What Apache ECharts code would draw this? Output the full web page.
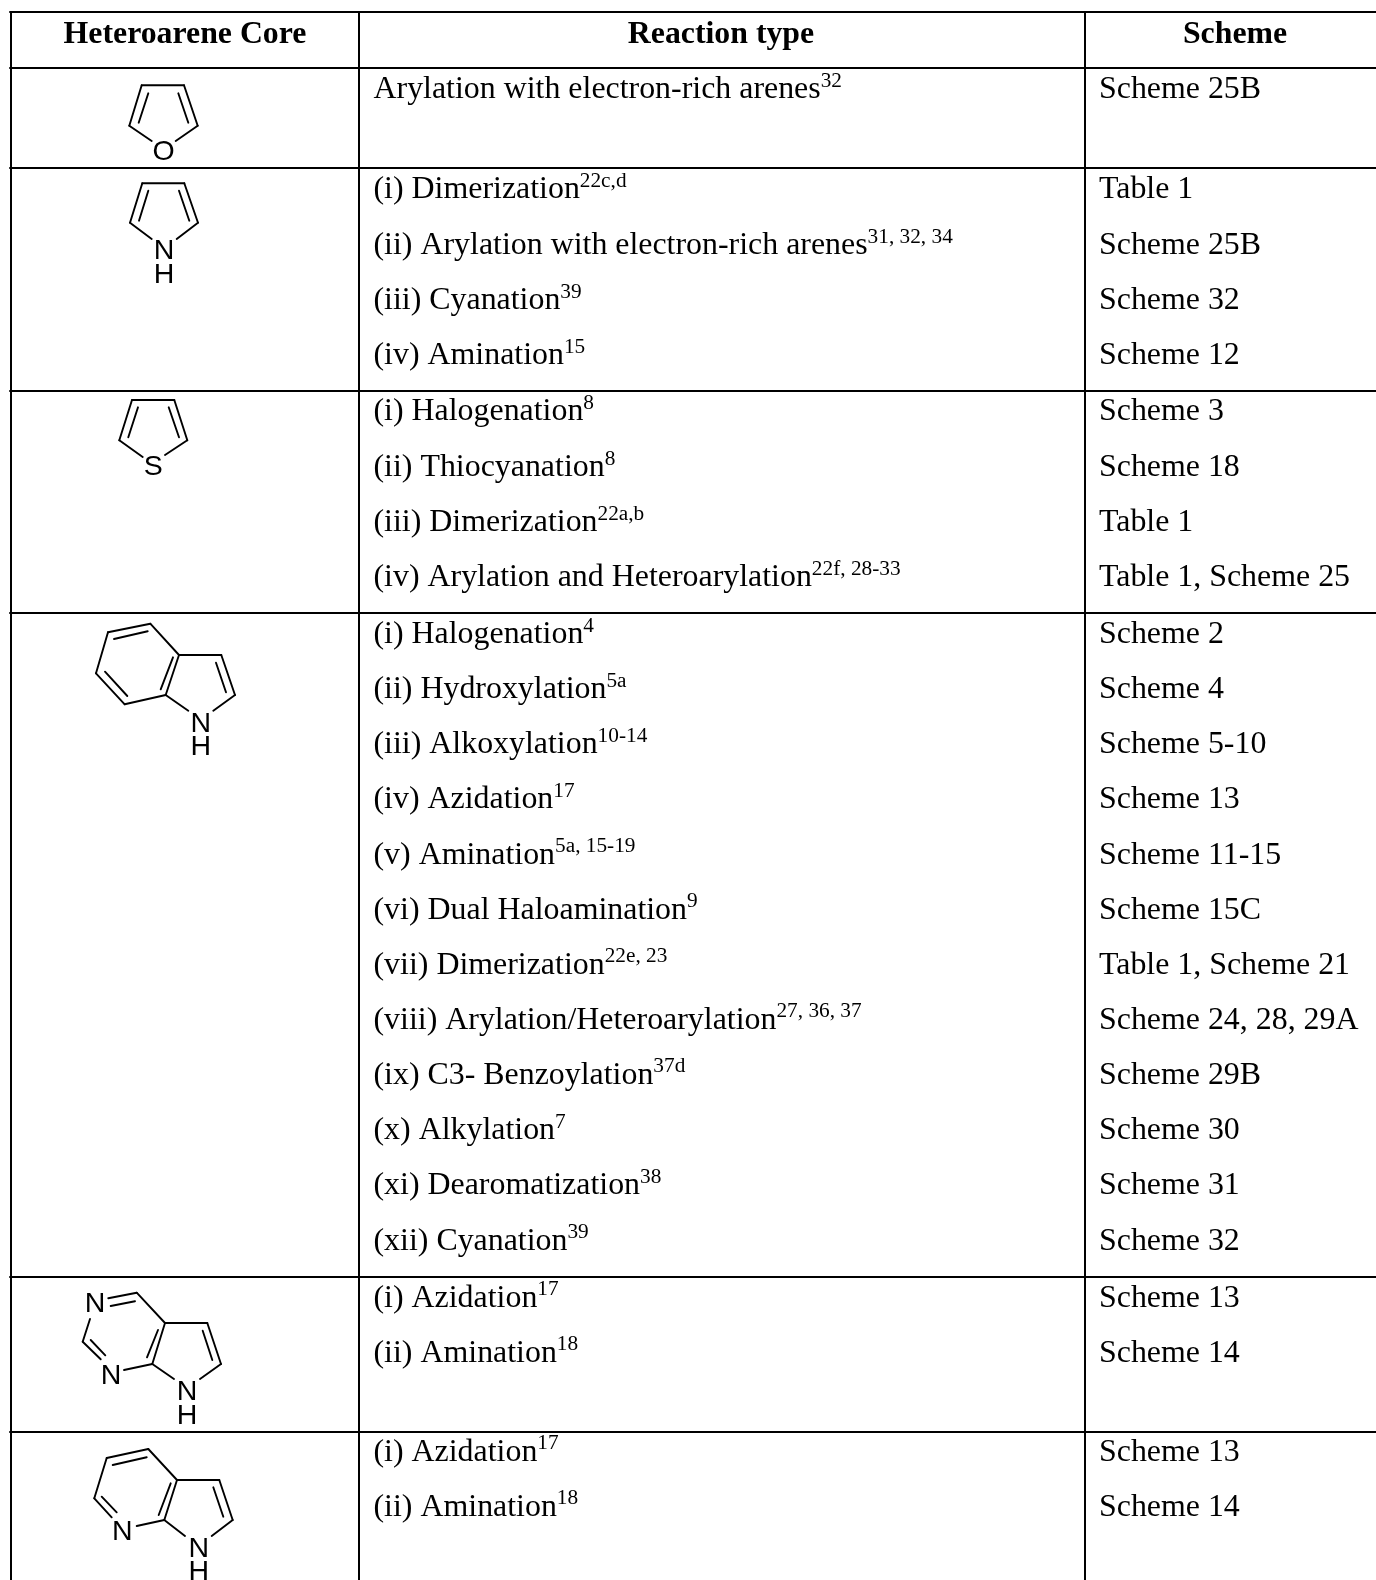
<!DOCTYPE html>
<html>
<head>
<meta charset="utf-8">
<title>Heteroarene cores</title>
<style>html,body{margin:0;padding:0;background:#fff}#c{width:1376px;height:1580px}</style>
<script src="https://cdn.jsdelivr.net/npm/echarts@6/dist/echarts.min.js"></script>
</head>
<body>
<div id="c"></div>
<script>
// --- Table rules (page pixel scale of the hidden axes)
const ruleRows = [12, 68, 168, 391, 613, 1277, 1432];
const ruleCols = [11, 359, 1085];

// --- Header
const headerLabels = ['Heteroarene Core', 'Reaction type', 'Scheme'];
const headerCenters = [185, 721, 1235];
const headerBaseline = 45.5;

// --- Body text: reaction, superscript, scheme, baseline
const reactionTexts = [
  'Arylation with electron-rich arenes',
  '(i) Dimerization', '(ii) Arylation with electron-rich arenes', '(iii) Cyanation', '(iv) Amination',
  '(i) Halogenation', '(ii) Thiocyanation', '(iii) Dimerization', '(iv) Arylation and Heteroarylation',
  '(i) Halogenation', '(ii) Hydroxylation', '(iii) Alkoxylation', '(iv) Azidation', '(v) Amination',
  '(vi) Dual Haloamination', '(vii) Dimerization', '(viii) Arylation/Heteroarylation', '(ix) C3- Benzoylation',
  '(x) Alkylation', '(xi) Dearomatization', '(xii) Cyanation',
  '(i) Azidation', '(ii) Amination',
  '(i) Azidation', '(ii) Amination'
];
const reactionRefs = [
  '32',
  '22c,d', '31, 32, 34', '39', '15',
  '8', '8', '22a,b', '22f, 28-33',
  '4', '5a', '10-14', '17', '5a, 15-19',
  '9', '22e, 23', '27, 36, 37', '37d',
  '7', '38', '39',
  '17', '18',
  '17', '18'
];
const schemeTexts = [
  'Scheme 25B',
  'Table 1', 'Scheme 25B', 'Scheme 32', 'Scheme 12',
  'Scheme 3', 'Scheme 18', 'Table 1', 'Table 1, Scheme 25',
  'Scheme 2', 'Scheme 4', 'Scheme 5-10', 'Scheme 13', 'Scheme 11-15',
  'Scheme 15C', 'Table 1, Scheme 21', 'Scheme 24, 28, 29A', 'Scheme 29B',
  'Scheme 30', 'Scheme 31', 'Scheme 32',
  'Scheme 13', 'Scheme 14',
  'Scheme 13', 'Scheme 14'
];
const textBaselines = [
  100.5,
  200.5, 256.5, 311.5, 366.5,
  422.5, 478.5, 533.5, 588.5,
  645.5, 700.5, 755.5, 810.5, 866, 921, 976, 1031, 1086, 1141.5, 1196.5, 1252,
  1309, 1364,
  1463, 1518
];
const reactionX = 373.5;
const schemeX = 1099;

// --- Structures: bonds as [x1, y1, x2, y2]
const furanBonds = [
  [141.7,85.3,184,85.3],[141.7,85.3,129.3,125.7],[184,85.3,197.7,125.7],
  [129.3,125.7,151.7,141],[197.7,125.7,175.7,141],
  [148.3,93.3,138.7,122.7],[178.3,93.3,188.3,122.7]
];
const pyrroleBonds = [
  [142.3,183.3,184.3,183.3],[142.3,183.3,130,222.7],[184.3,183.3,198,222.7],
  [130,222.7,151.7,239],[198,222.7,176.7,239],
  [148.3,190.7,139,220.7],[179,190.7,189.3,220.7]
];
const thiopheneBonds = [
  [132,400,174.3,400],[132,400,119.3,440.3],[174.3,400,187.3,440.3],
  [119.3,440.3,142.7,457],[187.3,440.3,165,455],
  [138,407.3,128.3,437.3],[168.7,407.3,179,437.3]
];
const indoleBonds = [
  [108,632.3,150.3,623.7],[150.3,623.7,179,655],[179,655,221.3,655],[221.3,655,235,695],
  [179,655,165.7,695],[165.7,695,124.7,704.3],[124.7,704.3,96,673.3],[96,673.3,108,632.3],
  [165.7,695,188.3,710.7],[235,695,213.3,710.7],
  [114,639,147.7,631.3],[173,657.3,160.7,689.3],[216,662.7,226,692.3],[105,671.7,127.3,696]
];
const pyrrolopyrimidineBonds = [
  [108.3,1298.3,136.7,1292.7],[110.7,1306,135,1301.3],[136.7,1292.7,165,1323],
  [165,1323,207.3,1323],[207.3,1323,221,1364],[202.7,1330.7,212.3,1360],
  [165,1323,152.3,1364],[158,1330,147,1357.3],[152.3,1364,124,1370],
  [82.7,1341.7,90,1319],[82.7,1341.7,100.7,1359.3],[90.7,1340,105.3,1355.3],
  [152.3,1364,174,1379],[221,1364,200,1379]
];
const azaindoleBonds = [
  [106.7,1458,148.3,1449],[112.7,1465,146.7,1457.3],[148.3,1449,177,1480],
  [177,1480,219.3,1480],[219.3,1480,232.7,1520],[213.3,1487.3,223.3,1516.7],
  [177,1480,164.3,1520],[170.7,1483.3,158.7,1515],[164.3,1520,136.7,1526],
  [94.3,1498.3,111.7,1517.3],[101.7,1496.7,116.7,1512.3],[94.3,1498.3,106.7,1458],
  [164.3,1520,185,1536],[232.7,1520,211.7,1536]
];
// Atom labels: [x, y, symbol]
const atomLabels = [
  [163.5,152.5,'O'],
  [164,251,'N'],[164,275.5,'H'],
  [153.3,467.5,'S'],
  [200.8,724.5,'N'],[200.8,747.5,'H'],
  [95,1304,'N'],[111,1376,'N'],[187,1392.5,'N'],[187,1416.5,'H'],
  [122.3,1532,'N'],[198.8,1549,'N'],[198.8,1572,'H']
];

const SERIF = '"Liberation Serif","Times New Roman",serif';
const SANS = '"Liberation Sans",Arial,sans-serif';
const BODY = 31.9, SUP = 21.3, HEAD = 31.8, ATOM = 28.5;
const MID = 0.3375;           // em-middle above the baseline for the serif face
const SUP_RISE = 12;

const measure = document.createElement('canvas').getContext('2d');
function textWidth(s, size) { measure.font = size + 'px ' + SERIF; return measure.measureText(s).width; }

// Flatten into segments and text items
const ruleSegs = [
  ...ruleRows.map(y => [ruleCols[0] - 1, y, 1376, y]),
  ...ruleCols.map(x => [x, ruleRows[0], x, 1580])
];
const bondSegs = [...furanBonds, ...pyrroleBonds, ...thiopheneBonds, ...indoleBonds,
                  ...pyrrolopyrimidineBonds, ...azaindoleBonds];

const textItems = [];
headerLabels.forEach((t, i) => textItems.push({x: headerCenters[i], y: headerBaseline - MID * HEAD, t, size: HEAD, bold: true, align: 'center', font: SERIF}));
reactionTexts.forEach((t, i) => {
  const b = textBaselines[i];
  textItems.push({x: reactionX, y: b - MID * BODY, t, size: BODY, align: 'left', font: SERIF});
  textItems.push({x: reactionX + textWidth(t, BODY), y: b - SUP_RISE - MID * SUP, t: reactionRefs[i], size: SUP, align: 'left', font: SERIF});
  textItems.push({x: schemeX, y: b - MID * BODY, t: schemeTexts[i], size: BODY, align: 'left', font: SERIF});
});
atomLabels.forEach(a => textItems.push({x: a[0], y: a[1], t: a[2], size: ATOM, align: 'center', font: SANS}));

function segRenderer(width, color) {
  return function (params, api) {
    const p = api.coord([api.value(0), api.value(1)]);
    const q = api.coord([api.value(2), api.value(3)]);
    return {type: 'line', shape: {x1: p[0], y1: p[1], x2: q[0], y2: q[1]},
            style: {stroke: color, lineWidth: width, lineCap: 'round', fill: null}};
  };
}

const chart = echarts.init(document.getElementById('c'), null, {renderer: 'canvas'});
chart.setOption({
  animation: false,
  backgroundColor: '#ffffff',
  grid: {left: 0, right: 0, top: 0, bottom: 0, containLabel: false},
  xAxis: {type: 'value', min: 0, max: 1376, show: false},
  yAxis: {type: 'value', min: 0, max: 1580, inverse: true, show: false},
  tooltip: {show: false},
  series: [
    {type: 'custom', coordinateSystem: 'cartesian2d', silent: true, clip: false,
     data: ruleSegs, renderItem: segRenderer(2, '#000'),
     encode: {x: [0, 2], y: [1, 3]}},
    {type: 'custom', coordinateSystem: 'cartesian2d', silent: true, clip: false,
     data: bondSegs, renderItem: segRenderer(1.9, '#000'),
     encode: {x: [0, 2], y: [1, 3]}},
    {type: 'custom', coordinateSystem: 'cartesian2d', silent: true, clip: false,
     data: textItems.map(d => [d.x, d.y]),
     encode: {x: 0, y: 1},
     renderItem: function (params, api) {
       const d = textItems[params.dataIndex];
       const p = api.coord([api.value(0), api.value(1)]);
       return {type: 'text', x: p[0], y: p[1],
         style: {text: d.t, fill: '#000', align: d.align, verticalAlign: 'middle',
                 font: (d.bold ? 'bold ' : '') + d.size + 'px ' + d.font}};
     }}
  ]
});
</script>
</body>
</html>
